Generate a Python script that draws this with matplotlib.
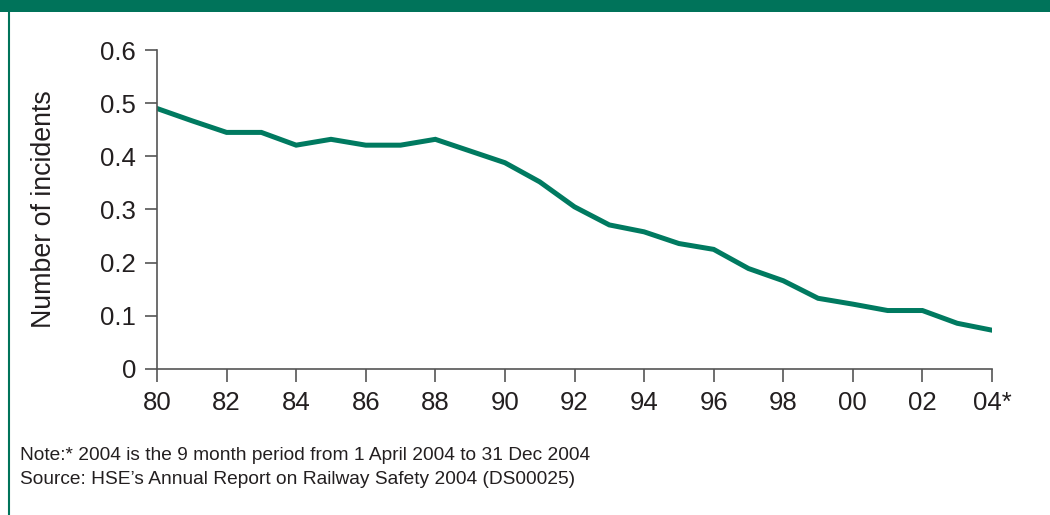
import matplotlib.pyplot as plt
from matplotlib.patches import Rectangle
from matplotlib.lines import Line2D

plt.rcParams['font.family'] = ['Liberation Sans', 'DejaVu Sans']

years = list(range(1980, 2005))
incidents = [0.490, 0.467, 0.445, 0.445, 0.421, 0.432, 0.421, 0.421, 0.432, 0.410,
             0.388, 0.352, 0.305, 0.271, 0.258, 0.236, 0.225, 0.189, 0.166, 0.133,
             0.122, 0.110, 0.110, 0.086, 0.073]
tick_years = list(range(1980, 2005, 2))
tick_labels = ['80', '82', '84', '86', '88', '90', '92', '94', '96', '98', '00', '02', '04*']
y_ticks = [0, 0.1, 0.2, 0.3, 0.4, 0.5, 0.6]
y_labels = ['0', '0.1', '0.2', '0.3', '0.4', '0.5', '0.6']

green = '#007a60'
axis_col = '#555555'
text_col = '#231f20'

fig = plt.figure(figsize=(10.5, 5.15), dpi=100)
fig.patch.set_facecolor('white')

# green header band and left rule
fig.add_artist(Rectangle((0, 1 - 12 / 515), 1, 12 / 515, transform=fig.transFigure,
                         color='#00735a', lw=0))
fig.add_artist(Line2D([8.5 / 1050, 8.5 / 1050], [0, 1 - 12 / 515], transform=fig.transFigure,
                      color='#00735a', lw=1.5))

ax = fig.add_axes([157 / 1050, 1 - 369 / 515, (992 - 157) / 1050, (369 - 50) / 515])
ax.plot(years, incidents, color=green, lw=3.6, solid_joinstyle='miter')

ax.set_xlim(1980, 2004)
ax.set_ylim(0, 0.6)
ax.set_xticks(tick_years)
ax.set_xticklabels(tick_labels)
ax.set_yticks(y_ticks)
ax.set_yticklabels(y_labels)
ax.tick_params(direction='out', length=9, width=1.2, colors=axis_col, labelcolor=text_col,
               labelsize=18.5)
ax.tick_params(axis='x', pad=7)
ax.tick_params(axis='y', pad=6)
for s in ['top', 'right']:
    ax.spines[s].set_visible(False)
for s in ['left', 'bottom']:
    ax.spines[s].set_color(axis_col)
    ax.spines[s].set_linewidth(1.2)

ax.set_ylabel('Number of incidents', fontsize=19.3, color=text_col, va='center')
ax.yaxis.set_label_coords((44 - 157) / 835, 0.5)

fig.text(20 / 1050, 1 - 455 / 515, 'Note:* 2004 is the 9 month period from 1 April 2004 to 31 Dec 2004',
         fontsize=13.8, color=text_col, va='center')
fig.text(20 / 1050, 1 - 479 / 515, 'Source: HSE\u2019s Annual Report on Railway Safety 2004 (DS00025)',
         fontsize=13.8, color=text_col, va='center')

fig.savefig('out.png', dpi=100)
